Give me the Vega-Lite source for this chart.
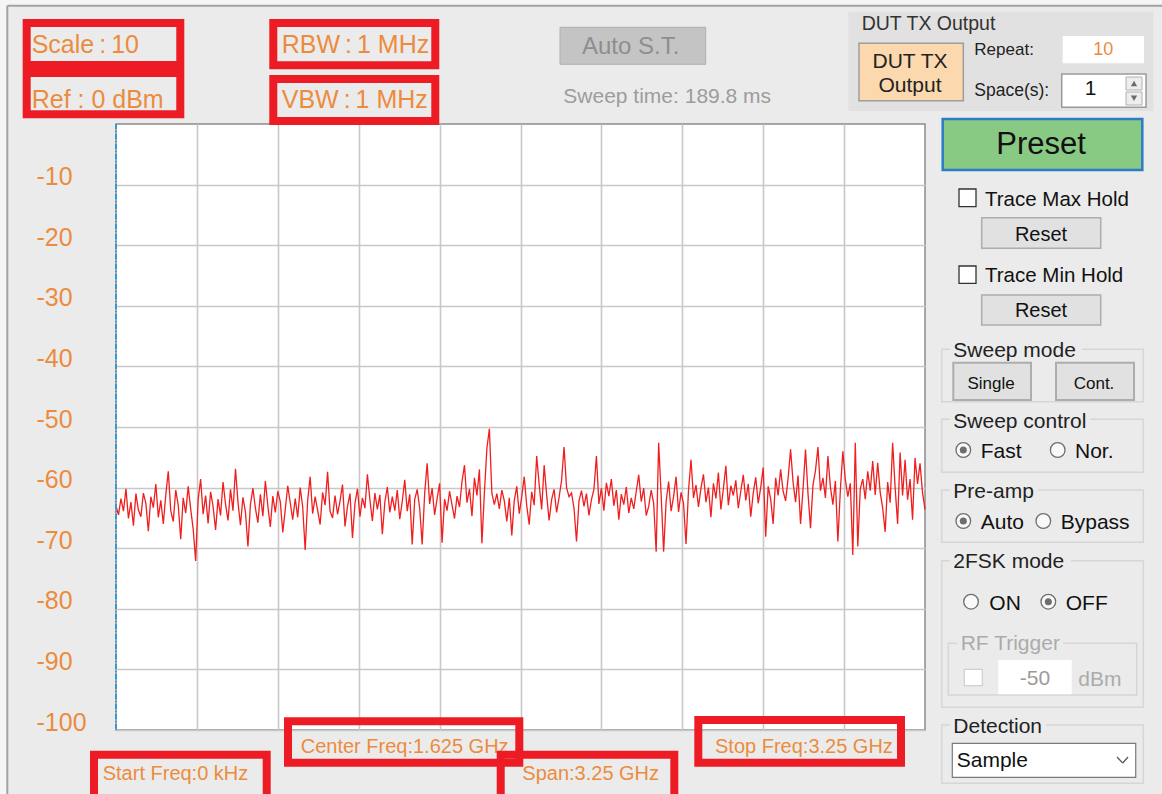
{
"$schema":"https://vega.github.io/schema/vega-lite/v6.json",
"width":809,"height":606,
"autosize":{"type":"none"},
"padding":{"left":116,"top":124,"right":237,"bottom":64},
"background":"#EBEBEB",
"config":{"view":{"fill":"white","stroke":"#8C8C8C","strokeWidth":1.5},"font":"Liberation Sans","text":{"font":"Liberation Sans","baseline":"alphabetic"}},
"datasets":{"trace":[
{"f":0.00,"p":-63.0},{"f":0.01,"p":-64.5},{"f":0.02,"p":-61.8},{"f":0.03,"p":-63.9},{"f":0.04,"p":-60.2},{"f":0.05,"p":-65.1},{"f":0.06,"p":-62.4},{"f":0.07,"p":-66.3},{"f":0.08,"p":-61.0},{"f":0.09,"p":-63.7},
{"f":0.10,"p":-64.8},{"f":0.11,"p":-60.9},{"f":0.12,"p":-62.6},{"f":0.13,"p":-67.2},{"f":0.14,"p":-61.5},{"f":0.15,"p":-63.3},{"f":0.16,"p":-59.4},{"f":0.17,"p":-64.9},{"f":0.18,"p":-62.1},{"f":0.19,"p":-66.0},
{"f":0.20,"p":-61.2},{"f":0.21,"p":-57.3},{"f":0.22,"p":-63.8},{"f":0.23,"p":-65.6},{"f":0.24,"p":-60.4},{"f":0.25,"p":-62.9},{"f":0.26,"p":-68.5},{"f":0.27,"p":-61.7},{"f":0.28,"p":-64.2},{"f":0.29,"p":-59.8},
{"f":0.30,"p":-63.5},{"f":0.31,"p":-66.8},{"f":0.32,"p":-72.1},{"f":0.33,"p":-62.0},{"f":0.34,"p":-58.6},{"f":0.35,"p":-64.4},{"f":0.36,"p":-61.3},{"f":0.37,"p":-65.9},{"f":0.38,"p":-60.7},{"f":0.39,"p":-63.1},
{"f":0.40,"p":-67.0},{"f":0.41,"p":-61.9},{"f":0.42,"p":-64.6},{"f":0.43,"p":-59.1},{"f":0.44,"p":-62.7},{"f":0.45,"p":-65.4},{"f":0.46,"p":-60.3},{"f":0.47,"p":-63.8},{"f":0.48,"p":-56.9},{"f":0.49,"p":-62.4},
{"f":0.50,"p":-66.2},{"f":0.51,"p":-61.6},{"f":0.52,"p":-64.0},{"f":0.53,"p":-69.7},{"f":0.54,"p":-62.8},{"f":0.55,"p":-60.1},{"f":0.56,"p":-63.4},{"f":0.57,"p":-65.8},{"f":0.58,"p":-61.1},{"f":0.59,"p":-64.7},
{"f":0.60,"p":-58.9},{"f":0.61,"p":-63.0},{"f":0.62,"p":-66.5},{"f":0.63,"p":-61.4},{"f":0.64,"p":-64.1},{"f":0.65,"p":-60.6},{"f":0.66,"p":-62.3},{"f":0.67,"p":-67.4},{"f":0.68,"p":-63.6},{"f":0.69,"p":-59.7},
{"f":0.70,"p":-62.5},{"f":0.71,"p":-65.3},{"f":0.72,"p":-61.8},{"f":0.73,"p":-64.9},{"f":0.74,"p":-60.0},{"f":0.75,"p":-63.2},{"f":0.76,"p":-70.3},{"f":0.77,"p":-62.1},{"f":0.78,"p":-58.2},{"f":0.79,"p":-64.3},
{"f":0.80,"p":-61.5},{"f":0.81,"p":-63.7},{"f":0.82,"p":-66.1},{"f":0.83,"p":-60.8},{"f":0.84,"p":-62.9},{"f":0.85,"p":-57.4},{"f":0.86,"p":-63.9},{"f":0.87,"p":-65.0},{"f":0.88,"p":-61.3},{"f":0.89,"p":-64.4},
{"f":0.90,"p":-62.2},{"f":0.91,"p":-59.5},{"f":0.92,"p":-66.4},{"f":0.93,"p":-63.1},{"f":0.94,"p":-61.0},{"f":0.95,"p":-68.3},{"f":0.96,"p":-62.6},{"f":0.97,"p":-60.2},{"f":0.98,"p":-64.8},{"f":0.99,"p":-61.7},
{"f":1.00,"p":-63.4},{"f":1.01,"p":-57.8},{"f":1.02,"p":-62.0},{"f":1.03,"p":-65.5},{"f":1.04,"p":-60.9},{"f":1.05,"p":-63.6},{"f":1.06,"p":-61.2},{"f":1.07,"p":-67.7},{"f":1.08,"p":-62.4},{"f":1.09,"p":-59.9},
{"f":1.10,"p":-64.1},{"f":1.11,"p":-61.5},{"f":1.12,"p":-63.8},{"f":1.13,"p":-60.4},{"f":1.14,"p":-65.2},{"f":1.15,"p":-62.3},{"f":1.16,"p":-58.7},{"f":1.17,"p":-63.9},{"f":1.18,"p":-61.1},{"f":1.19,"p":-69.4},
{"f":1.20,"p":-62.0},{"f":1.21,"p":-60.3},{"f":1.22,"p":-63.4},{"f":1.23,"p":-69.4},{"f":1.24,"p":-61.0},{"f":1.25,"p":-56.0},{"f":1.26,"p":-62.7},{"f":1.27,"p":-60.1},{"f":1.28,"p":-64.5},{"f":1.29,"p":-61.8},
{"f":1.30,"p":-59.3},{"f":1.31,"p":-69.1},{"f":1.32,"p":-61.9},{"f":1.33,"p":-63.8},{"f":1.34,"p":-60.6},{"f":1.35,"p":-62.9},{"f":1.36,"p":-65.1},{"f":1.37,"p":-61.4},{"f":1.38,"p":-63.2},{"f":1.39,"p":-59.0},
{"f":1.40,"p":-56.3},{"f":1.41,"p":-62.5},{"f":1.42,"p":-60.2},{"f":1.43,"p":-64.7},{"f":1.44,"p":-58.4},{"f":1.45,"p":-61.3},{"f":1.46,"p":-57.0},{"f":1.47,"p":-69.2},{"f":1.48,"p":-60.8},{"f":1.49,"p":-53.5},
{"f":1.50,"p":-50.3},{"f":1.51,"p":-60.9},{"f":1.52,"p":-62.8},{"f":1.53,"p":-61.0},{"f":1.54,"p":-63.5},{"f":1.55,"p":-60.4},{"f":1.56,"p":-62.2},{"f":1.57,"p":-65.6},{"f":1.58,"p":-61.7},{"f":1.59,"p":-67.9},
{"f":1.60,"p":-62.1},{"f":1.61,"p":-59.8},{"f":1.62,"p":-64.3},{"f":1.63,"p":-61.5},{"f":1.64,"p":-58.2},{"f":1.65,"p":-63.0},{"f":1.66,"p":-66.1},{"f":1.67,"p":-60.7},{"f":1.68,"p":-62.9},{"f":1.69,"p":-54.8},
{"f":1.70,"p":-59.5},{"f":1.71,"p":-63.6},{"f":1.72,"p":-56.3},{"f":1.73,"p":-61.2},{"f":1.74,"p":-65.4},{"f":1.75,"p":-62.0},{"f":1.76,"p":-60.3},{"f":1.77,"p":-64.1},{"f":1.78,"p":-61.6},{"f":1.79,"p":-58.8},
{"f":1.80,"p":-53.3},{"f":1.81,"p":-60.0},{"f":1.82,"p":-61.5},{"f":1.83,"p":-60.9},{"f":1.84,"p":-63.4},{"f":1.85,"p":-68.9},{"f":1.86,"p":-62.2},{"f":1.87,"p":-60.5},{"f":1.88,"p":-63.1},{"f":1.89,"p":-61.0},
{"f":1.90,"p":-64.6},{"f":1.91,"p":-62.0},{"f":1.92,"p":-60.3},{"f":1.93,"p":-54.8},{"f":1.94,"p":-62.7},{"f":1.95,"p":-60.1},{"f":1.96,"p":-63.8},{"f":1.97,"p":-59.2},{"f":1.98,"p":-61.4},{"f":1.99,"p":-58.6},
{"f":2.00,"p":-63.0},{"f":2.01,"p":-60.4},{"f":2.02,"p":-65.3},{"f":2.03,"p":-61.1},{"f":2.04,"p":-62.8},{"f":2.05,"p":-59.9},{"f":2.06,"p":-64.2},{"f":2.07,"p":-61.7},{"f":2.08,"p":-63.5},{"f":2.09,"p":-60.6},
{"f":2.10,"p":-57.9},{"f":2.11,"p":-62.3},{"f":2.12,"p":-60.1},{"f":2.13,"p":-64.6},{"f":2.14,"p":-63.1},{"f":2.15,"p":-60.4},{"f":2.16,"p":-62.6},{"f":2.17,"p":-70.6},{"f":2.18,"p":-52.6},{"f":2.19,"p":-61.2},
{"f":2.20,"p":-70.6},{"f":2.21,"p":-62.3},{"f":2.22,"p":-59.0},{"f":2.23,"p":-63.9},{"f":2.24,"p":-61.5},{"f":2.25,"p":-58.2},{"f":2.26,"p":-64.0},{"f":2.27,"p":-60.8},{"f":2.28,"p":-62.7},{"f":2.29,"p":-69.3},
{"f":2.30,"p":-60.4},{"f":2.31,"p":-55.4},{"f":2.32,"p":-61.7},{"f":2.33,"p":-59.6},{"f":2.34,"p":-63.2},{"f":2.35,"p":-60.1},{"f":2.36,"p":-57.8},{"f":2.37,"p":-62.4},{"f":2.38,"p":-60.0},{"f":2.39,"p":-64.9},
{"f":2.40,"p":-59.3},{"f":2.41,"p":-61.8},{"f":2.42,"p":-57.5},{"f":2.43,"p":-63.6},{"f":2.44,"p":-60.2},{"f":2.45,"p":-56.4},{"f":2.46,"p":-62.9},{"f":2.47,"p":-59.7},{"f":2.48,"p":-61.3},{"f":2.49,"p":-58.8},
{"f":2.50,"p":-63.4},{"f":2.51,"p":-60.6},{"f":2.52,"p":-57.9},{"f":2.53,"p":-62.1},{"f":2.54,"p":-59.4},{"f":2.55,"p":-64.8},{"f":2.56,"p":-60.9},{"f":2.57,"p":-58.3},{"f":2.58,"p":-62.6},{"f":2.59,"p":-60.0},
{"f":2.60,"p":-56.7},{"f":2.61,"p":-68.1},{"f":2.62,"p":-59.8},{"f":2.63,"p":-61.9},{"f":2.64,"p":-66.0},{"f":2.65,"p":-58.4},{"f":2.66,"p":-61.3},{"f":2.67,"p":-57.0},{"f":2.68,"p":-60.6},{"f":2.69,"p":-62.2},
{"f":2.70,"p":-58.5},{"f":2.71,"p":-53.7},{"f":2.72,"p":-59.1},{"f":2.73,"p":-62.4},{"f":2.74,"p":-58.0},{"f":2.75,"p":-66.0},{"f":2.76,"p":-60.3},{"f":2.77,"p":-53.7},{"f":2.78,"p":-61.0},{"f":2.79,"p":-66.7},
{"f":2.80,"p":-59.6},{"f":2.81,"p":-57.2},{"f":2.82,"p":-53.3},{"f":2.83,"p":-60.5},{"f":2.84,"p":-58.4},{"f":2.85,"p":-61.7},{"f":2.86,"p":-54.8},{"f":2.87,"p":-59.9},{"f":2.88,"p":-62.8},{"f":2.89,"p":-58.9},
{"f":2.90,"p":-68.9},{"f":2.91,"p":-60.4},{"f":2.92,"p":-54.0},{"f":2.93,"p":-58.7},{"f":2.94,"p":-61.5},{"f":2.95,"p":-59.3},{"f":2.96,"p":-71.1},{"f":2.97,"p":-52.6},{"f":2.98,"p":-69.7},{"f":2.99,"p":-60.2},
{"f":3.00,"p":-58.6},{"f":3.01,"p":-61.9},{"f":3.02,"p":-57.3},{"f":3.03,"p":-60.5},{"f":3.04,"p":-55.6},{"f":3.05,"p":-61.2},{"f":3.06,"p":-55.9},{"f":3.07,"p":-60.8},{"f":3.08,"p":-63.4},{"f":3.09,"p":-67.3},
{"f":3.10,"p":-59.1},{"f":3.11,"p":-62.5},{"f":3.12,"p":-52.6},{"f":3.13,"p":-60.0},{"f":3.14,"p":-66.0},{"f":3.15,"p":-54.2},{"f":3.16,"p":-61.3},{"f":3.17,"p":-55.4},{"f":3.18,"p":-62.0},{"f":3.19,"p":-58.6},
{"f":3.20,"p":-65.3},{"f":3.21,"p":-55.1},{"f":3.22,"p":-59.4},{"f":3.23,"p":-56.0},{"f":3.24,"p":-60.8},{"f":3.25,"p":-63.6}
]},
"layer":[
{"data":{"name":"trace"},
 "mark":{"type":"line","color":"#F01E1E","strokeWidth":1.3},
 "encoding":{
  "x":{"field":"f","type":"quantitative","scale":{"domain":[0,3.25],"nice":false,"zero":false},
       "axis":{"title":null,"values":[0.325,0.65,0.975,1.3,1.625,1.95,2.275,2.6,2.925],"labels":false,"ticks":false,"domain":false,"grid":true,"gridColor":"#C8C8C8","gridWidth":1.6}},
  "y":{"field":"p","type":"quantitative","scale":{"domain":[-100,0],"nice":false,"zero":false},
       "axis":{"title":null,"values":[-100,-90,-80,-70,-60,-50,-40,-30,-20,-10],"labelExpr":"'-' + abs(datum.value)","labelFont":"Liberation Sans","labelFontSize":25,"labelColor":"#EC8B3E","labelAlign":"left","labelBaseline":"middle","labelPadding":80,"labelOffset":-8,"ticks":false,"domain":false,"grid":true,"gridColor":"#C8C8C8","gridWidth":1.6}}
 }},
{"data":{"values":[{}]},
 "layer":[
  {"mark":{"type":"rect","fill":"#F5F5F5"},"encoding":{"x":{"datum":-0.47},"x2":{"datum":4.21},"y":{"datum":20.6},"y2":{"datum":19.52}}},
  {"mark":{"type":"rect","fill":"#F5F5F5"},"encoding":{"x":{"datum":-0.47},"x2":{"datum":-0.4367},"y":{"datum":20.6},"y2":{"datum":-111}}},
  {"mark":{"type":"rule","color":"#A3A3A3","strokeWidth":2},"encoding":{"x":{"datum":-0.4367},"x2":{"datum":4.21},"y":{"datum":19.52}}},
  {"mark":{"type":"rule","color":"#A3A3A3","strokeWidth":2},"encoding":{"x":{"datum":-0.4367},"y":{"datum":19.52},"y2":{"datum":-111}}},
  {"mark":{"type":"rule","color":"#2E9AD6","strokeWidth":2,"strokeDash":[5,2,1,2]},"encoding":{"x":{"datum":0},"y":{"datum":0},"y2":{"datum":-100}}},

  {"mark":{"type":"rect","fill":"#C4C4C4","stroke":"#B0B0B0","strokeWidth":1},"encoding":{"x":{"datum":1.7837},"x2":{"datum":2.369},"y":{"datum":15.957},"y2":{"datum":9.851}}},
  {"mark":{"type":"text","text":"Auto S.T.","align":"center","fontSize":24,"color":"#8E8E8E"},"encoding":{"x":{"datum":2.0677},"y":{"datum":11.5}}},
  {"mark":{"type":"text","text":"Sweep time: 189.8 ms","align":"left","fontSize":21,"color":"#9C9C9C"},"encoding":{"x":{"datum":1.797},"y":{"datum":3.416}}},

  {"mark":{"type":"rect","fill":"#E1E1E1"},"encoding":{"x":{"datum":2.9419},"x2":{"datum":4.1672},"y":{"datum":18.53},"y2":{"datum":2.145}}},
  {"mark":{"type":"text","text":"DUT TX Output","align":"left","fontSize":19.5,"color":"#333333"},"encoding":{"x":{"datum":2.9957},"y":{"datum":15.51}}},
  {"mark":{"type":"rect","fill":"#FCD8AE","stroke":"#9E9E9E","strokeWidth":1.5},"encoding":{"x":{"datum":2.9849},"x2":{"datum":3.4039},"y":{"datum":13.317},"y2":{"datum":3.845}}},
  {"mark":{"type":"text","text":"DUT TX","align":"center","fontSize":21,"color":"#222222"},"encoding":{"x":{"datum":3.1898},"y":{"datum":9.191}}},
  {"mark":{"type":"text","text":"Output","align":"center","fontSize":21,"color":"#222222"},"encoding":{"x":{"datum":3.1898},"y":{"datum":5.33}}},
  {"mark":{"type":"text","text":"Repeat:","align":"left","fontSize":17,"color":"#222222"},"encoding":{"x":{"datum":3.4481},"y":{"datum":11.386}}},
  {"mark":{"type":"rect","fill":"white"},"encoding":{"x":{"datum":3.8032},"x2":{"datum":4.1299},"y":{"datum":14.521},"y2":{"datum":10.017}}},
  {"mark":{"type":"text","text":"10","align":"center","fontSize":18,"color":"#EC8B3E"},"encoding":{"x":{"datum":3.9663},"y":{"datum":11.386}}},
  {"mark":{"type":"text","text":"Space(s):","align":"left","fontSize":17.5,"color":"#222222"},"encoding":{"x":{"datum":3.4481},"y":{"datum":4.538}}},
  {"mark":{"type":"rect","fill":"white","stroke":"#9A9A9A","strokeWidth":1.5},"encoding":{"x":{"datum":3.7992},"x2":{"datum":4.1379},"y":{"datum":8.251},"y2":{"datum":2.756}}},
  {"mark":{"type":"rect","fill":"#EDEDED","stroke":"#B0B0B0","strokeWidth":1},"encoding":{"x":{"datum":4.0575},"x2":{"datum":4.1218},"y":{"datum":7.756},"y2":{"datum":5.611}}},
  {"mark":{"type":"rect","fill":"#EDEDED","stroke":"#B0B0B0","strokeWidth":1},"encoding":{"x":{"datum":4.0575},"x2":{"datum":4.1218},"y":{"datum":5.281},"y2":{"datum":3.135}}},
  {"mark":{"type":"point","shape":"triangle-up","size":40,"filled":true,"color":"#333333"},"encoding":{"x":{"datum":4.0897},"y":{"datum":6.68}}},
  {"mark":{"type":"point","shape":"triangle-down","size":40,"filled":true,"color":"#333333"},"encoding":{"x":{"datum":4.0897},"y":{"datum":4.25}}},
  {"mark":{"type":"text","text":"1","align":"center","fontSize":21,"color":"#111111"},"encoding":{"x":{"datum":3.9157},"y":{"datum":4.785}}},

  {"mark":{"type":"rect","fill":"#88C984","stroke":"#2D7CC6","strokeWidth":2.5},"encoding":{"x":{"datum":3.3211},"x2":{"datum":4.123},"y":{"datum":0.825},"y2":{"datum":-7.591}}},
  {"mark":{"type":"text","text":"Preset","align":"center","fontSize":31,"color":"#111111"},"encoding":{"x":{"datum":3.7161},"y":{"datum":-4.95}}},

  {"mark":{"type":"rect","fill":"white","stroke":"#333333","strokeWidth":1.3},"encoding":{"x":{"datum":3.3866},"x2":{"datum":3.4549},"y":{"datum":-10.726},"y2":{"datum":-13.647}}},
  {"mark":{"type":"text","text":"Trace Max Hold","align":"left","fontSize":20.5,"color":"#111111"},"encoding":{"x":{"datum":3.4911},"y":{"datum":-13.482}}},
  {"mark":{"type":"rect","fill":"#E1E1E1","stroke":"#ADADAD","strokeWidth":1.5},"encoding":{"x":{"datum":3.4778},"x2":{"datum":3.9559},"y":{"datum":-15.462},"y2":{"datum":-20.512}}},
  {"mark":{"type":"text","text":"Reset","align":"center","fontSize":20,"color":"#111111"},"encoding":{"x":{"datum":3.7161},"y":{"datum":-19.257}}},
  {"mark":{"type":"rect","fill":"white","stroke":"#333333","strokeWidth":1.3},"encoding":{"x":{"datum":3.3866},"x2":{"datum":3.4549},"y":{"datum":-23.432},"y2":{"datum":-26.287}}},
  {"mark":{"type":"text","text":"Trace Min Hold","align":"left","fontSize":20.5,"color":"#111111"},"encoding":{"x":{"datum":3.4911},"y":{"datum":-26.122}}},
  {"mark":{"type":"rect","fill":"#E1E1E1","stroke":"#ADADAD","strokeWidth":1.5},"encoding":{"x":{"datum":3.4778},"x2":{"datum":3.9559},"y":{"datum":-28.218},"y2":{"datum":-33.168}}},
  {"mark":{"type":"text","text":"Reset","align":"center","fontSize":20,"color":"#111111"},"encoding":{"x":{"datum":3.7161},"y":{"datum":-31.898}}},

  {"mark":{"type":"rect","fill":"transparent","stroke":"#D6D6D6","strokeWidth":1.5},"encoding":{"x":{"datum":3.3171},"x2":{"datum":4.1271},"y":{"datum":-37.178},"y2":{"datum":-45.825}}},
  {"mark":{"type":"rect","fill":"transparent","stroke":"#D6D6D6","strokeWidth":1.5},"encoding":{"x":{"datum":3.3171},"x2":{"datum":4.1271},"y":{"datum":-48.729},"y2":{"datum":-57.475}}},
  {"mark":{"type":"rect","fill":"transparent","stroke":"#D6D6D6","strokeWidth":1.5},"encoding":{"x":{"datum":3.3171},"x2":{"datum":4.1271},"y":{"datum":-60.396},"y2":{"datum":-69.026}}},
  {"mark":{"type":"rect","fill":"transparent","stroke":"#D6D6D6","strokeWidth":1.5},"encoding":{"x":{"datum":3.3171},"x2":{"datum":4.1271},"y":{"datum":-72.063},"y2":{"datum":-96.254}}},
  {"mark":{"type":"rect","fill":"transparent","stroke":"#D6D6D6","strokeWidth":1.5},"encoding":{"x":{"datum":3.3437},"x2":{"datum":4.1005},"y":{"datum":-85.693},"y2":{"datum":-94.224}}},
  {"mark":{"type":"rect","fill":"transparent","stroke":"#D6D6D6","strokeWidth":1.5},"encoding":{"x":{"datum":3.3171},"x2":{"datum":4.1271},"y":{"datum":-99.175},"y2":{"datum":-108.795}}},
  {"mark":{"type":"rect","fill":"#EBEBEB"},"encoding":{"x":{"datum":3.3505},"x2":{"datum":3.8808},"y":{"datum":-36.469},"y2":{"datum":-37.954}}},
  {"mark":{"type":"rect","fill":"#EBEBEB"},"encoding":{"x":{"datum":3.3505},"x2":{"datum":3.9129},"y":{"datum":-48.02},"y2":{"datum":-49.505}}},
  {"mark":{"type":"rect","fill":"#EBEBEB"},"encoding":{"x":{"datum":3.3505},"x2":{"datum":3.704},"y":{"datum":-59.736},"y2":{"datum":-61.221}}},
  {"mark":{"type":"rect","fill":"#EBEBEB"},"encoding":{"x":{"datum":3.3505},"x2":{"datum":3.8366},"y":{"datum":-71.287},"y2":{"datum":-72.772}}},
  {"mark":{"type":"rect","fill":"#EBEBEB"},"encoding":{"x":{"datum":3.3786},"x2":{"datum":3.8045},"y":{"datum":-84.983},"y2":{"datum":-86.469}}},
  {"mark":{"type":"rect","fill":"#EBEBEB"},"encoding":{"x":{"datum":3.3505},"x2":{"datum":3.7361},"y":{"datum":-98.515},"y2":{"datum":-100.0}}},
  {"mark":{"type":"text","text":"Sweep mode","align":"left","fontSize":21,"color":"#222222"},"encoding":{"x":{"datum":3.3637},"y":{"datum":-38.399}}},
  {"mark":{"type":"text","text":"Sweep control","align":"left","fontSize":21,"color":"#222222"},"encoding":{"x":{"datum":3.3637},"y":{"datum":-50.116}}},
  {"mark":{"type":"text","text":"Pre-amp","align":"left","fontSize":21,"color":"#222222"},"encoding":{"x":{"datum":3.3637},"y":{"datum":-61.667}}},
  {"mark":{"type":"text","text":"2FSK mode","align":"left","fontSize":21,"color":"#222222"},"encoding":{"x":{"datum":3.3637},"y":{"datum":-73.317}}},
  {"mark":{"type":"text","text":"RF Trigger","align":"left","fontSize":21,"color":"#ABABAB"},"encoding":{"x":{"datum":3.3934},"y":{"datum":-86.799}}},
  {"mark":{"type":"text","text":"Detection","align":"left","fontSize":21,"color":"#222222"},"encoding":{"x":{"datum":3.3637},"y":{"datum":-100.545}}},

  {"mark":{"type":"rect","fill":"#E1E1E1","stroke":"#ADADAD","strokeWidth":2},"encoding":{"x":{"datum":3.3637},"x2":{"datum":3.6759},"y":{"datum":-39.389},"y2":{"datum":-45.545}}},
  {"mark":{"type":"rect","fill":"#E1E1E1","stroke":"#ADADAD","strokeWidth":2},"encoding":{"x":{"datum":3.7763},"x2":{"datum":4.0897},"y":{"datum":-39.389},"y2":{"datum":-45.545}}},
  {"mark":{"type":"text","text":"Single","align":"center","fontSize":17,"color":"#111111"},"encoding":{"x":{"datum":3.5152},"y":{"datum":-43.729}}},
  {"mark":{"type":"text","text":"Cont.","align":"center","fontSize":17,"color":"#111111"},"encoding":{"x":{"datum":3.929},"y":{"datum":-43.729}}},

  {"mark":{"type":"point","shape":"circle","size":215,"filled":true,"color":"white","stroke":"#3A3A3A","strokeWidth":1.3},"encoding":{"x":{"datum":3.4039},"y":{"datum":-53.795}}},
  {"mark":{"type":"point","shape":"circle","size":50,"filled":true,"color":"#333333"},"encoding":{"x":{"datum":3.4039},"y":{"datum":-53.795}}},
  {"mark":{"type":"text","text":"Fast","align":"left","fontSize":21,"color":"#111111"},"encoding":{"x":{"datum":3.4738},"y":{"datum":-55.165}}},
  {"mark":{"type":"point","shape":"circle","size":215,"filled":true,"color":"white","stroke":"#3A3A3A","strokeWidth":1.3},"encoding":{"x":{"datum":3.7831},"y":{"datum":-53.795}}},
  {"mark":{"type":"text","text":"Nor.","align":"left","fontSize":21,"color":"#111111"},"encoding":{"x":{"datum":3.8526},"y":{"datum":-55.165}}},
  {"mark":{"type":"point","shape":"circle","size":215,"filled":true,"color":"white","stroke":"#3A3A3A","strokeWidth":1.3},"encoding":{"x":{"datum":3.4039},"y":{"datum":-65.512}}},
  {"mark":{"type":"point","shape":"circle","size":50,"filled":true,"color":"#333333"},"encoding":{"x":{"datum":3.4039},"y":{"datum":-65.512}}},
  {"mark":{"type":"text","text":"Auto","align":"left","fontSize":21,"color":"#111111"},"encoding":{"x":{"datum":3.4738},"y":{"datum":-66.881}}},
  {"mark":{"type":"point","shape":"circle","size":215,"filled":true,"color":"white","stroke":"#3A3A3A","strokeWidth":1.3},"encoding":{"x":{"datum":3.7253},"y":{"datum":-65.512}}},
  {"mark":{"type":"text","text":"Bypass","align":"left","fontSize":21,"color":"#111111"},"encoding":{"x":{"datum":3.7952},"y":{"datum":-66.881}}},
  {"mark":{"type":"point","shape":"circle","size":215,"filled":true,"color":"white","stroke":"#3A3A3A","strokeWidth":1.3},"encoding":{"x":{"datum":3.4349},"y":{"datum":-78.828}}},
  {"mark":{"type":"text","text":"ON","align":"left","fontSize":21,"color":"#111111"},"encoding":{"x":{"datum":3.5083},"y":{"datum":-80.198}}},
  {"mark":{"type":"point","shape":"circle","size":215,"filled":true,"color":"white","stroke":"#3A3A3A","strokeWidth":1.3},"encoding":{"x":{"datum":3.7454},"y":{"datum":-78.828}}},
  {"mark":{"type":"point","shape":"circle","size":50,"filled":true,"color":"#333333"},"encoding":{"x":{"datum":3.7454},"y":{"datum":-78.828}}},
  {"mark":{"type":"text","text":"OFF","align":"left","fontSize":21,"color":"#111111"},"encoding":{"x":{"datum":3.8153},"y":{"datum":-80.198}}},

  {"mark":{"type":"rect","fill":"white","stroke":"#D0D0D0","strokeWidth":1.3},"encoding":{"x":{"datum":3.4079},"x2":{"datum":3.4802},"y":{"datum":-89.984},"y2":{"datum":-92.69}}},
  {"mark":{"type":"rect","fill":"white"},"encoding":{"x":{"datum":3.5445},"x2":{"datum":3.8394},"y":{"datum":-88.449},"y2":{"datum":-94.109}}},
  {"mark":{"type":"text","text":"-50","align":"center","fontSize":21,"color":"#9B9B9B"},"encoding":{"x":{"datum":3.692},"y":{"datum":-92.574}}},
  {"mark":{"type":"text","text":"dBm","align":"left","fontSize":21,"color":"#ABABAB"},"encoding":{"x":{"datum":3.8659},"y":{"datum":-92.69}}},

  {"mark":{"type":"rect","fill":"white","stroke":"#7A7A7A","strokeWidth":1.2},"encoding":{"x":{"datum":3.3597},"x2":{"datum":4.0965},"y":{"datum":-102.195},"y2":{"datum":-107.805}}},
  {"mark":{"type":"text","text":"Sample","align":"left","fontSize":21,"color":"#111111"},"encoding":{"x":{"datum":3.3774},"y":{"datum":-106.056}}},
  {"mark":{"type":"rule","color":"#555555","strokeWidth":1.2},"encoding":{"x":{"datum":4.0214},"y":{"datum":-104.455},"x2":{"datum":4.0443},"y2":{"datum":-105.446}}},
  {"mark":{"type":"rule","color":"#555555","strokeWidth":1.2},"encoding":{"x":{"datum":4.0443},"y":{"datum":-105.446},"x2":{"datum":4.0655},"y2":{"datum":-104.455}}},

  {"mark":{"type":"text","text":"Scale\u2009:\u200910","align":"left","fontSize":25,"color":"#EC8B3E"},"encoding":{"x":{"datum":-0.3387},"y":{"datum":11.716}}},
  {"mark":{"type":"text","text":"Ref : 0 dBm","align":"left","fontSize":25,"color":"#EC8B3E"},"encoding":{"x":{"datum":-0.3387},"y":{"datum":2.591}}},
  {"mark":{"type":"text","text":"RBW\u2009:\u20091 MHz","align":"left","fontSize":25,"color":"#EC8B3E"},"encoding":{"x":{"datum":0.6657},"y":{"datum":11.716}}},
  {"mark":{"type":"text","text":"VBW\u2009:\u20091 MHz","align":"left","fontSize":25,"color":"#EC8B3E"},"encoding":{"x":{"datum":0.6657},"y":{"datum":2.64}}},
  {"mark":{"type":"text","text":"Start Freq:0 kHz","align":"left","fontSize":20,"color":"#EC8B3E"},"encoding":{"x":{"datum":-0.0534},"y":{"datum":-108.251}}},
  {"mark":{"type":"text","text":"Center Freq:1.625 GHz","align":"left","fontSize":20,"color":"#EC8B3E"},"encoding":{"x":{"datum":0.742},"y":{"datum":-103.845}}},
  {"mark":{"type":"text","text":"Span:3.25 GHz","align":"left","fontSize":20,"color":"#EC8B3E"},"encoding":{"x":{"datum":1.6323},"y":{"datum":-108.251}}},
  {"mark":{"type":"text","text":"Stop Freq:3.25 GHz","align":"left","fontSize":20,"color":"#EC8B3E"},"encoding":{"x":{"datum":2.4064},"y":{"datum":-103.845}}},

  {"mark":{"type":"rect","fill":"transparent","stroke":"#ED1C24","strokeWidth":8},"encoding":{"x":{"datum":-0.3588},"x2":{"datum":0.2583},"y":{"datum":16.67},"y2":{"datum":9.736}}},
  {"mark":{"type":"rect","fill":"transparent","stroke":"#ED1C24","strokeWidth":8},"encoding":{"x":{"datum":-0.3588},"x2":{"datum":0.2583},"y":{"datum":8.416},"y2":{"datum":1.6}}},
  {"mark":{"type":"rect","fill":"transparent","stroke":"#ED1C24","strokeWidth":8},"encoding":{"x":{"datum":0.6319},"x2":{"datum":1.2827},"y":{"datum":16.67},"y2":{"datum":9.686}}},
  {"mark":{"type":"rect","fill":"transparent","stroke":"#ED1C24","strokeWidth":8},"encoding":{"x":{"datum":0.6319},"x2":{"datum":1.2827},"y":{"datum":7.426},"y2":{"datum":0.495}}},
  {"mark":{"type":"rect","fill":"transparent","stroke":"#ED1C24","strokeWidth":8},"encoding":{"x":{"datum":-0.0884},"x2":{"datum":0.6054},"y":{"datum":-104.08},"y2":{"datum":-111.55}}},
  {"mark":{"type":"rect","fill":"transparent","stroke":"#ED1C24","strokeWidth":8},"encoding":{"x":{"datum":0.691},"x2":{"datum":1.6202},"y":{"datum":-98.56},"y2":{"datum":-105.4}}},
  {"mark":{"type":"rect","fill":"transparent","stroke":"#ED1C24","strokeWidth":8},"encoding":{"x":{"datum":1.5455},"x2":{"datum":2.2429},"y":{"datum":-104.08},"y2":{"datum":-111.55}}},
  {"mark":{"type":"rect","fill":"transparent","stroke":"#ED1C24","strokeWidth":8},"encoding":{"x":{"datum":2.3393},"x2":{"datum":3.1536},"y":{"datum":-98.35},"y2":{"datum":-105.4}}}
 ]}
]
}
